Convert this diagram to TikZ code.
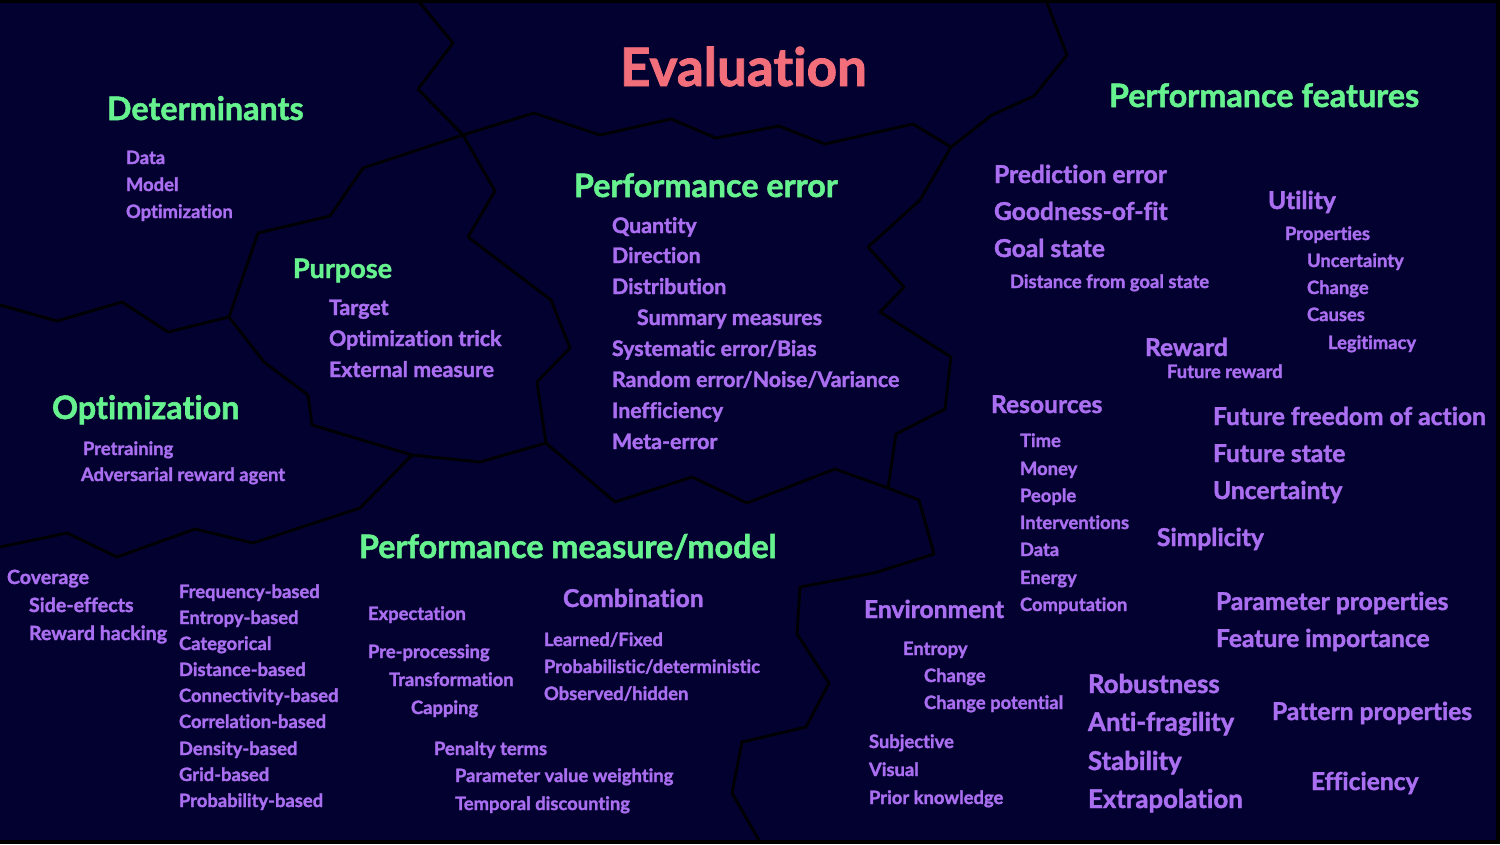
\documentclass[tikz,border=0pt]{standalone}
\usepackage{fontspec}
\setmainfont{Lato}[Ligatures=NoCommon, BoldFeatures={FakeBold=1.6}]
\definecolor{bgnavy}{HTML}{030130}
\definecolor{hgreen}{HTML}{66F28E}
\definecolor{ipurple}{HTML}{AA6EF0}
\definecolor{tsalmon}{HTML}{F26E7A}
\begin{document}
\begin{tikzpicture}[x=1pt,y=-1pt,
  lbl/.style={anchor=base west, inner sep=0pt, outer sep=0pt},
  ttl/.style={lbl, text=tsalmon, font=\fontsize{53}{58}\selectfont\bfseries},
  head/.style={lbl, text=hgreen, font=\fontsize{32.3}{36}\selectfont\bfseries},
  headsm/.style={lbl, text=hgreen, font=\fontsize{27}{30}\selectfont\bfseries},
  big/.style={lbl, text=ipurple, font=\fontsize{24.6}{28}\selectfont\bfseries},
  bigb/.style={lbl, text=ipurple, font=\fontsize{25.8}{29}\selectfont\bfseries},
  mid/.style={lbl, text=ipurple, font=\fontsize{21.4}{24}\selectfont\bfseries},
  smb/.style={lbl, text=ipurple, font=\fontsize{19.6}{22}\selectfont\bfseries},
  sm/.style={lbl, text=ipurple, font=\fontsize{18.4}{21}\selectfont\bfseries},
  bline/.style={draw=black, line width=2.8pt, line join=round, line cap=round}]
\useasboundingbox (0,0) rectangle (1500,844);
\fill[black] (0,0) rectangle (1500,844);
\fill[bgnavy] (0,3) rectangle (1496,840);

% junctions
\coordinate (J1) at (463,135);
\coordinate (J2) at (951,147);
\coordinate (J3) at (546,443);
\coordinate (J4) at (888,488);
\coordinate (J5) at (229,317);
\coordinate (J6) at (412,455);

% boundary lines
\draw[bline] (420,3) -- (453,43) -- (418,89) -- (J1);
\draw[bline] (J1) -- (495,191) -- (468,237) -- (551,300) -- (570,348) -- (537,382) -- (J3);
\draw[bline] (J1) -- (534,113) -- (600,135) -- (671,119) -- (716,138) -- (779,126) -- (825,144) -- (913,124) -- (J2);
\draw[bline] (J2) -- (992,115) -- (1034,96) -- (1067,55) -- (1047,3);
\draw[bline] (J2) -- (920,200) -- (868,247) -- (904,287) -- (880,312) -- (951,357) -- (945,409) -- (896,434) -- (J4);
\draw[bline] (J1) -- (363,168) -- (330,216) -- (258,233) -- (J5);
\draw[bline] (0,305) -- (57,321) -- (122,302) -- (168,332) -- (J5);
\draw[bline] (J5) -- (264,362) -- (308,395) -- (312,425) -- (J6);
\draw[bline] (J6) -- (480,462) -- (J3);
\draw[bline] (J3) -- (615,502) -- (692,477) -- (747,503) -- (835,469) -- (J4);
\draw[bline] (J6) -- (360,508) -- (253,543) -- (195,529) -- (117,557) -- (67,533) -- (0,547);
\draw[bline] (J4) -- (919,500) -- (934,554) -- (874,573) -- (800,587) -- (797,634) -- (829,683) -- (806,727) -- (742,742) -- (732,793) -- (760,842);

% title
\node[ttl] (title) at (620,86) {Evaluation};

% Determinants
\node[head] (det) at (107,120) {Determinants};
\node[sm] (detdata) at (126,164) {Data};
\node[sm] (detmodel) at (126,191) {Model};
\node[sm] (detopt) at (126,218) {Optimization};

% Purpose
\node[headsm] (purp) at (293,278) {Purpose};
\node[mid] (ptarget) at (329,315) {Target};
\node[mid] (ptrick) at (329,346) {Optimization trick};
\node[mid] (pext) at (329,377) {External measure};

% Optimization
\node[head] (opt) at (52,419) {Optimization};
\node[sm] (opre) at (83,455) {Pretraining};
\node[sm] (oadv) at (81,481) {Adversarial reward agent};

% Performance error
\node[head] (perr) at (574,197) {Performance error};
\node[mid] (eq) at (612,233) {Quantity};
\node[mid] (ed) at (612,263) {Direction};
\node[mid] (edist) at (612,294) {Distribution};
\node[mid] (esum) at (637,325) {Summary measures};
\node[mid] (esys) at (612,356) {Systematic error/Bias};
\node[mid] (erand) at (612,387) {Random error/Noise/Variance};
\node[mid] (eineff) at (612,418) {Inefficiency};
\node[mid] (emeta) at (612,449) {Meta-error};

% Performance features
\node[head] (pfeat) at (1109,107) {Performance features};
\node[big] (fpred) at (994,183) {Prediction error};
\node[big] (fgood) at (994,220) {Goodness-of-fit};
\node[big] (fgoal) at (994,257) {Goal state};
\node[sm] (fdist) at (1010,288) {Distance from goal state};
\node[big] (futil) at (1268,209) {Utility};
\node[sm] (fprop) at (1285,240) {Properties};
\node[sm] (func) at (1307,267) {Uncertainty};
\node[sm] (fchg) at (1307,294) {Change};
\node[sm] (fcaus) at (1307,321) {Causes};
\node[sm] (flegit) at (1328,349) {Legitimacy};
\node[big] (frew) at (1145,356) {Reward};
\node[sm] (ffrew) at (1167,378) {Future reward};
\node[big] (fres) at (991,413) {Resources};
\node[sm] (rtime) at (1020,447) {Time};
\node[sm] (rmoney) at (1020,475) {Money};
\node[sm] (rpeople) at (1020,502) {People};
\node[sm] (rint) at (1020,529) {Interventions};
\node[sm] (rdata) at (1020,556) {Data};
\node[sm] (renergy) at (1020,584) {Energy};
\node[sm] (rcomp) at (1020,611) {Computation};
\node[big] (ffree) at (1213,425) {Future freedom of action};
\node[big] (fstate) at (1213,462) {Future state};
\node[big] (funcert) at (1213,499) {Uncertainty};
\node[big] (fsimp) at (1157,546) {Simplicity};
\node[big] (fparam) at (1216,610) {Parameter properties};
\node[big] (ffeat) at (1216,647) {Feature importance};
\node[big] (fenv) at (864,618) {Environment};
\node[sm] (ventropy) at (903,655) {Entropy};
\node[sm] (vchange) at (924,682) {Change};
\node[sm] (vchpot) at (924,709) {Change potential};
\node[sm] (vsubj) at (869,748) {Subjective};
\node[sm] (vvis) at (869,776) {Visual};
\node[sm] (vprior) at (869,804) {Prior knowledge};
\node[bigb] (frob) at (1088,693) {Robustness};
\node[bigb] (fanti) at (1088,731) {Anti-fragility};
\node[bigb] (fstab) at (1088,770) {Stability};
\node[bigb] (fextra) at (1088,808) {Extrapolation};
\node[big] (fpatt) at (1272,720) {Pattern properties};
\node[big] (feff) at (1311,790) {Efficiency};

% Performance measure/model
\node[head] (pmm) at (359,558) {Performance measure/model};
\node[big] (mcomb) at (563,607) {Combination};
\node[sm] (mexp) at (368,620) {Expectation};
\node[sm] (mpre) at (368,658) {Pre-processing};
\node[sm] (mtrans) at (389,686) {Transformation};
\node[sm] (mcap) at (411,714) {Capping};
\node[sm] (mlearn) at (544,646) {Learned/Fixed};
\node[sm] (mprob) at (544,673) {Probabilistic/deterministic};
\node[sm] (mobs) at (544,700) {Observed/hidden};
\node[sm] (mpen) at (434,755) {Penalty terms};
\node[sm] (mpvw) at (455,782) {Parameter value weighting};
\node[sm] (mtemp) at (455,810) {Temporal discounting};

% bottom left
\node[smb] (cov) at (7,584) {Coverage};
\node[smb] (cside) at (29,612) {Side-effects};
\node[smb] (chack) at (29,640) {Reward hacking};
\node[sm] (bfreq) at (179,598) {Frequency-based};
\node[sm] (bentr) at (179,624) {Entropy-based};
\node[sm] (bcat) at (179,650) {Categorical};
\node[sm] (bdist) at (179,676) {Distance-based};
\node[sm] (bconn) at (179,702) {Connectivity-based};
\node[sm] (bcorr) at (179,728) {Correlation-based};
\node[sm] (bdens) at (179,755) {Density-based};
\node[sm] (bgrid) at (179,781) {Grid-based};
\node[sm] (bprob) at (179,807) {Probability-based};
\end{tikzpicture}
\end{document}
